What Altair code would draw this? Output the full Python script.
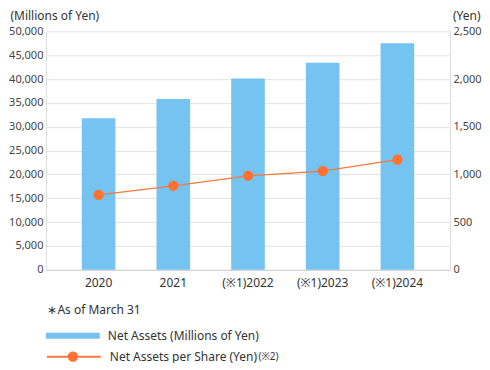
import altair as alt
import pandas as pd

years = ["2020", "2021", "(※1)2022", "(※1)2023", "(※1)2024"]
net_assets = [31800, 35800, 40100, 43400, 47500]
per_share = [785, 880, 985, 1035, 1155]
bar_name = "Net Assets (Millions of Yen)"
line_name = "Net Assets per Share (Yen)"
line_note = "(※2)"
left_ticks = [0, 5000, 10000, 15000, 20000, 25000, 30000, 35000, 40000, 45000, 50000]
right_ticks = [0, 500, 1000, 1500, 2000, 2500]

df = pd.DataFrame({
    "year": years,
    "assets": net_assets,
    "share": per_share,
    "bar_s": [bar_name] * 5,
    "line_s": [line_name] * 5,
    "pt_s": [line_note] * 5,
})

FONT = "Noto Sans, Noto Sans CJK JP, sans-serif"
BLUE = "#74c3f1"
ORANGE = "#ff7230"
SYM = 2916
CIRCLE = "M-0.19,0A0.19,0.19 0 1,0 0.19,0A0.19,0.19 0 1,0 -0.19,0Z"

x = alt.X("year:N", sort=years, title="∗As of March 31",
          scale=alt.Scale(paddingInner=0.55, paddingOuter=0.48),
          axis=alt.Axis(labelAngle=0, labelFontSize=12, labelColor="#333",
                        labelPadding=8, ticks=False, domainColor="#cfcfcf",
                        titleAnchor="start", titleAlign="left", titleBaseline="alphabetic",
                        titleX=1, titleY=44, titleFontSize=12, titleFontWeight="normal",
                        titleColor="#333"))

bars = alt.Chart(df).mark_bar(color=BLUE).encode(
    x=x,
    y=alt.Y("assets:Q", scale=alt.Scale(domain=[0, 50000], nice=False),
            axis=alt.Axis(values=left_ticks, format=",d", title="(Millions of Yen)",
                          titleAngle=0, titleAlign="left", titleBaseline="top",
                          titleX=-36, titleY=-21, titleFontSize=12, titleFontWeight="normal",
                          titleColor="#333", labelFontSize=11, labelColor="#444",
                          tickSize=0, labelPadding=3, domainColor="#dcdcdc",
                          gridColor="#e2e2e2")),
    color=alt.Color("bar_s:N", scale=alt.Scale(range=[BLUE]),
                    legend=alt.Legend(title=None, orient="none",
                                      legendX=0, legendY=278,
                                      symbolType="M-1,-0.11H1V0.11H-1Z",
                                      symbolSize=SYM, symbolStrokeWidth=0,
                                      labelFontSize=12, labelColor="#333",
                                      labelOffset=8, labelLimit=400)),
)

rs = alt.Scale(domain=[0, 2500], nice=False)
right_axis = alt.Axis(values=right_ticks, format=",d", title="(Yen)", orient="right",
                      titleAngle=0, titleAlign="right", titleBaseline="top",
                      titleX=30, titleY=-21, titleFontSize=12, titleFontWeight="normal",
                      titleColor="#333", labelFontSize=11, labelColor="#444",
                      tickSize=0, labelPadding=3, domainColor="#dcdcdc", grid=False)

line = alt.Chart(df).mark_line(strokeWidth=1.2).encode(
    x=x,
    y=alt.Y("share:Q", scale=rs, axis=right_axis),
    stroke=alt.Stroke("line_s:N", scale=alt.Scale(range=["#f5793c"]),
                      legend=alt.Legend(title=None, orient="none", legendX=0, legendY=298,
                                        symbolType="stroke", symbolSize=SYM,
                                        symbolStrokeWidth=2, symbolStrokeColor="#ffb08e",
                                        labelFontSize=12, labelColor="#333",
                                        labelOffset=8, labelLimit=400)),
)

points = alt.Chart(df).mark_point(filled=True, size=SYM, opacity=1, color=ORANGE).encode(
    x=x,
    y=alt.Y("share:Q", scale=rs, axis=None),
    shape=alt.Shape("pt_s:N", scale=alt.Scale(range=[CIRCLE]),
                    legend=alt.Legend(title=None, orient="none", legendX=0, legendY=299,
                                      symbolSize=SYM, symbolFillColor=ORANGE,
                                      symbolStrokeWidth=0, symbolOpacity=1,
                                      labelFontSize=10, labelColor="#333",
                                      labelOffset=159, labelLimit=400)),
)

chart = alt.layer(bars, line, points).resolve_scale(
    y="independent", color="independent"
).properties(
    width=405, height=239, padding={"left": 0, "top": 1, "right": 0, "bottom": 0}
).configure(font=FONT).configure_view(stroke=None)

chart.save("out.html", embed_options={"renderer": "svg", "actions": False})
